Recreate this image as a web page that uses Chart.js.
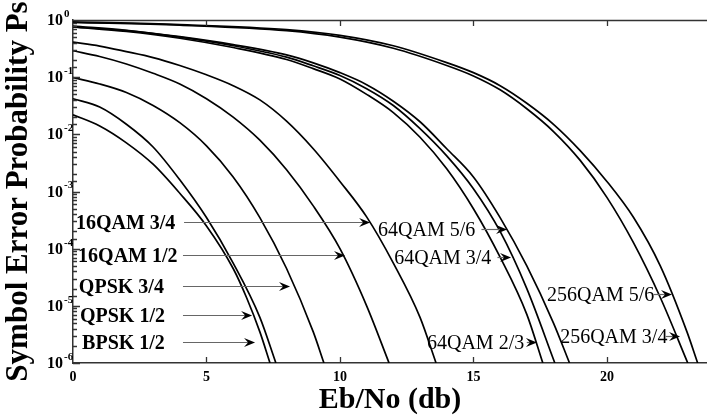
<!DOCTYPE html>
<html>
<head>
<meta charset="utf-8">
<script src="https://cdn.jsdelivr.net/npm/chart.js@4.4.0/dist/chart.umd.min.js"></script>
<style>
  body { margin: 0; background: #fff; }
  #wrap { width: 707px; height: 415px; }
</style>
</head>
<body>
<div id="wrap"><canvas id="ser" width="707" height="415"></canvas></div>
<script>
// Eb/No (dB) and symbol error probability
var bpsk12X = [0, 1, 2, 3, 4, 5, 6, 6.5, 7, 7.38];
var bpsk12Y = [2.2e-2, 1.4e-2, 7.1e-3, 3.0e-3, 9.3e-4, 2.5e-4, 4.5e-5, 1.4e-5, 3.5e-6, 1.0e-6];

var qpsk12X = [0, 1, 2, 3, 4, 5, 6, 7, 7.6];
var qpsk12Y = [4.2e-2, 3.0e-2, 1.5e-2, 6.0e-3, 1.6e-3, 3.5e-4, 5.6e-5, 6.3e-6, 1.0e-6];

var qpsk34X = [0, 1, 2, 3, 4, 5, 6, 7, 8, 9, 9.4];
var qpsk34Y = [9.8e-2, 7.6e-2, 5.4e-2, 3.2e-2, 1.6e-2, 6.3e-3, 1.8e-3, 3.5e-4, 4.5e-5, 3.5e-6, 1.0e-6];

var qam16_12X = [0, 1, 2, 3, 4, 5, 6, 7, 8, 9, 10, 11, 11.84];
var qam16_12Y = [2.9e-1, 2.3e-1, 1.7e-1, 1.17e-1, 7.6e-2, 4.2e-2, 2.0e-2, 7.9e-3, 2.4e-3, 5.6e-4, 1.0e-4, 1.0e-5, 1.0e-6];

var qam16_34X = [0, 1, 2, 3, 4, 5, 6, 7, 8, 9, 10, 11, 12, 13, 13.6];
var qam16_34Y = [4.1e-1, 3.5e-1, 2.8e-1, 2.2e-1, 1.6e-1, 1.1e-1, 7.1e-2, 4.0e-2, 1.7e-2, 5.6e-3, 1.5e-3, 3.6e-4, 5.6e-5, 6.3e-6, 1.0e-6];

var qam64_23X = [0, 2, 4, 6, 8, 9, 10, 11, 12, 13, 14, 15, 16, 17, 17.6];
var qam64_23Y = [0.76, 0.63, 0.48, 0.33, 0.204, 0.141, 9.3e-2, 5.0e-2, 2.4e-2, 8.9e-3, 2.5e-3, 5.0e-4, 7.1e-5, 7.1e-6, 1.0e-6];

var qam64_34X = [0, 2, 4, 6, 8, 9, 10, 11, 12, 13, 14, 15, 16, 17, 18.05];
var qam64_34Y = [0.76, 0.65, 0.5, 0.355, 0.224, 0.158, 0.107, 6.3e-2, 3.2e-2, 1.26e-2, 4.2e-3, 1.12e-3, 2.0e-4, 2.0e-5, 1.0e-6];

var qam64_56X = [0, 2, 4, 6, 8, 9, 10, 11, 12, 13, 14, 15, 16, 17, 18, 18.6];
var qam64_56Y = [0.78, 0.66, 0.51, 0.37, 0.245, 0.178, 0.12, 7.4e-2, 3.8e-2, 1.66e-2, 5.6e-3, 1.8e-3, 3.5e-4, 5.0e-5, 5.0e-6, 1.0e-6];

var qam256_34X = [0, 4, 8, 10, 12, 14, 15, 16, 17, 18, 19, 20, 21, 22, 23.03];
var qam256_34Y = [0.91, 0.81, 0.65, 0.5, 0.32, 0.16, 0.105, 6.0e-2, 2.8e-2, 1.12e-2, 3.5e-3, 7.9e-4, 1.26e-4, 1.4e-5, 1.0e-6];

var qam256_56X = [0, 4, 8, 10, 12, 14, 15, 16, 17, 18, 19, 20, 21, 22, 23, 23.4];
var qam256_56Y = [0.93, 0.83, 0.68, 0.54, 0.355, 0.18, 0.12, 7.1e-2, 3.5e-2, 1.5e-2, 5.2e-3, 1.5e-3, 3.5e-4, 5.0e-5, 3.5e-6, 1.0e-6];

var xTicks = [0, 5, 10, 15, 20];
var yDecades = [0, -1, -2, -3, -4, -5, -6];

// curve labels: text, where the text starts (Eb/No) and its height (Ps), arrow start/end (Eb/No)
var noteText  = ['16QAM 3/4', '16QAM 1/2', 'QPSK 3/4', 'QPSK 1/2', 'BPSK 1/2',
                 '64QAM 5/6', '64QAM 3/4', '64QAM 2/3', '256QAM 5/6', '256QAM 3/4'];
var noteX     = [0.11, 0.19, 0.22, 0.26, 0.34, 11.43, 12.03, 13.26, 17.76, 18.25];
var noteY     = [2.9e-4, 7.8e-5, 2.2e-5, 6.9e-6, 2.3e-6, 2.2e-4, 7.1e-5, 2.3e-6, 1.6e-5, 3.0e-6];
var arrowFrom = [4.16, 4.12, 4.12, 4.12, 4.12, 15.3, 15.9, 17.0, 21.75, 22.2];
var arrowTo   = [11.13, 10.19, 8.13, 6.71, 6.82, 16.26, 16.41, 17.38, 22.44, 22.74];

function pts(xs, ys) {
  return xs.map(function (x, i) { return { x: x, y: ys[i] }; });
}
function curve(name, xs, ys) {
  return {
    label: name, data: pts(xs, ys),
    borderColor: '#000', borderWidth: 1.7,
    pointRadius: 0, fill: false, cubicInterpolationMode: 'monotone'
  };
}

var serif = "'Liberation Serif', 'Times New Roman', serif";

function drawArrow(ctx, x1, x2, y) {
  ctx.strokeStyle = '#666';
  ctx.lineWidth = 1.2;
  ctx.beginPath();
  ctx.moveTo(x1, y);
  ctx.lineTo(x2 - 6, y);
  ctx.stroke();
  ctx.fillStyle = '#000';
  ctx.beginPath();
  ctx.moveTo(x2, y);
  ctx.lineTo(x2 - 11, y - 4.5);
  ctx.lineTo(x2 - 7, y);
  ctx.lineTo(x2 - 11, y + 4.5);
  ctx.closePath();
  ctx.fill();
}

var decor = {
  id: 'decor',
  afterDraw: function (chart) {
    var ctx = chart.ctx, a = chart.chartArea;
    var xs = chart.scales.x, ys = chart.scales.y;
    ctx.save();
    ctx.strokeStyle = '#333';
    ctx.lineWidth = 1.3;
    ctx.beginPath();
    ctx.moveTo(a.left, a.top + 0.5);
    ctx.lineTo(a.right, a.top + 0.5);
    xs.ticks.forEach(function (t) {
      if (t.value === 0) return;
      var px = Math.round(xs.getPixelForValue(t.value)) + 0.5;
      ctx.moveTo(px, a.bottom);
      ctx.lineTo(px, a.bottom - 6);
      ctx.moveTo(px, a.top);
      ctx.lineTo(px, a.top + 6);
    });
    ys.ticks.forEach(function (t) {
      var e = Math.log10(t.value);
      var major = Math.abs(e - Math.round(e)) < 1e-6;
      var py = Math.round(ys.getPixelForValue(t.value)) + 0.5;
      ctx.moveTo(a.left, py);
      ctx.lineTo(a.left + (major ? 7 : 4), py);
    });
    ctx.stroke();

    // y tick labels 10^n
    ctx.fillStyle = '#000';
    yDecades.forEach(function (n) {
      var py = ys.getPixelForValue(Math.pow(10, n));
      ctx.font = 'bold 16px ' + serif;
      ctx.textAlign = 'right';
      ctx.textBaseline = 'middle';
      ctx.fillText('10', a.left - 10, py + 1);
      ctx.font = 'bold 11px ' + serif;
      ctx.textAlign = 'left';
      ctx.fillText(n === 0 ? '0' : '-' + (-n), a.left - 9, py - 6);
    });

    // curve labels with arrows
    noteText.forEach(function (txt, i) {
      var y = Math.round(ys.getPixelForValue(noteY[i])) + 0.5;
      var left = i < 5;
      ctx.font = (left ? 'bold ' : '') + '20px ' + serif;
      ctx.fillStyle = '#000';
      ctx.textAlign = 'left';
      ctx.textBaseline = 'middle';
      ctx.fillText(txt, xs.getPixelForValue(noteX[i]), y + 1);
      drawArrow(ctx, xs.getPixelForValue(arrowFrom[i]), xs.getPixelForValue(arrowTo[i]), y);
    });
    ctx.restore();
  }
};

new Chart(document.getElementById('ser').getContext('2d'), {
  type: 'line',
  data: {
    datasets: [
      curve('BPSK 1/2', bpsk12X, bpsk12Y),
      curve('QPSK 1/2', qpsk12X, qpsk12Y),
      curve('QPSK 3/4', qpsk34X, qpsk34Y),
      curve('16QAM 1/2', qam16_12X, qam16_12Y),
      curve('16QAM 3/4', qam16_34X, qam16_34Y),
      curve('64QAM 2/3', qam64_23X, qam64_23Y),
      curve('64QAM 3/4', qam64_34X, qam64_34Y),
      curve('64QAM 5/6', qam64_56X, qam64_56Y),
      curve('256QAM 3/4', qam256_34X, qam256_34Y),
      curve('256QAM 5/6', qam256_56X, qam256_56Y)
    ]
  },
  options: {
    responsive: false,
    animation: false,
    layout: { padding: { top: 20, right: 0, left: 0, bottom: 0 } },
    plugins: { legend: { display: false }, tooltip: { enabled: false } },
    scales: {
      x: {
        type: 'linear', min: 0, max: 23.75,
        afterBuildTicks: function (s) {
          s.ticks = xTicks.map(function (v) { return { value: v }; });
        },
        afterFit: function (s) { s.height = 52; },
        ticks: {
          color: '#000', padding: 6, maxRotation: 0,
          font: { family: serif, weight: 'bold', size: 14 }
        },
        grid: { display: false, drawTicks: false },
        border: { display: true, color: '#333', width: 1.5 },
        title: {
          display: true, text: 'Eb/No (db)', color: '#000',
          font: { family: serif, weight: 'bold', size: 30, lineHeight: 1 },
          padding: { top: 0, bottom: 0 }
        }
      },
      y: {
        type: 'logarithmic', min: 1e-6, max: 1,
        afterFit: function (s) { s.width = 73; },
        ticks: { display: false },
        grid: { display: false, drawTicks: false },
        border: { display: true, color: '#333', width: 1.5 },
        title: {
          display: true, text: 'Symbol Error Probability Ps', color: '#000',
          font: { family: serif, weight: 'bold', size: 31, lineHeight: 1 },
          padding: { top: 3, bottom: 0 }
        }
      }
    }
  },
  plugins: [decor]
});
</script>
</body>
</html>
